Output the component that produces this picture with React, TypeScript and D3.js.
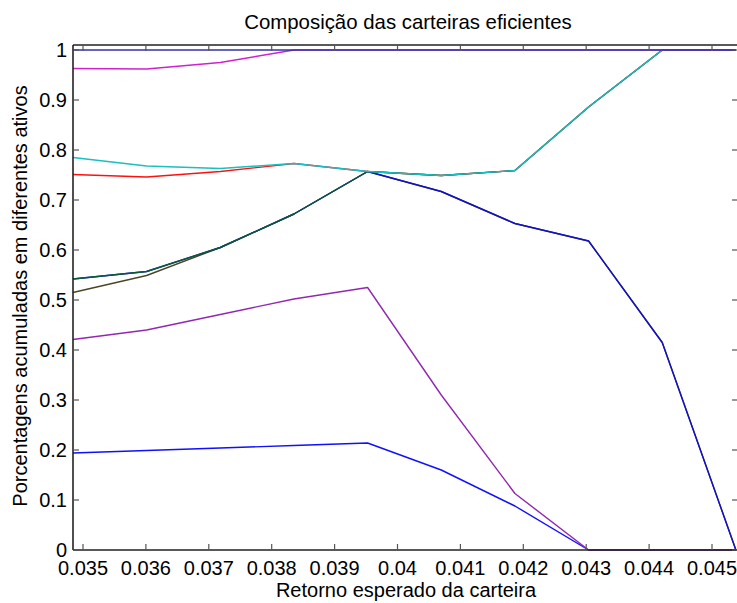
import React from "react";
import * as d3 from "d3";

// Expected returns of the 10 efficient portfolios (evenly spaced between the extremes)
const retornoMin = 0.03484;
const retornoMax = 0.04538;
const nCarteiras = 10;
const xs = d3.range(nCarteiras).map((i) => retornoMin + (i * (retornoMax - retornoMin)) / (nCarteiras - 1));

// Cumulative weights (one line per asset), in drawing order
const serieVermelha = [0.751, 0.746, 0.757, 0.773, 0.757, 0.749, 0.759, 0.886, 1, 1];
const serieOliva = [0.515, 0.549, 0.605, 0.672, 0.757, 0.717, 0.653, 0.618, 0.415, 0];
const serieAzulEscura = [0.542, 0.557, 0.605, 0.672, 0.757, 0.717, 0.653, 0.618, 0.415, 0];
const serieVerde = [0.542, 0.557, 0.605, 0.672, 0.757, 0.749, 0.759, 0.886, 1, 1];
const serieCiano = [0.785, 0.768, 0.763, 0.773, 0.757, 0.749, 0.759, 0.886, 1, 1];
const serieAzul = [0.194, 0.199, 0.204, 0.209, 0.214, 0.16, 0.088, 0, 0, 0];
const serieRoxa = [0.421, 0.44, 0.471, 0.502, 0.525, 0.31, 0.113, 0, 0, 0];
const serieMagenta = [0.963, 0.962, 0.975, 1, 1, 1, 1, 1, 1, 1];
const serieTopo = [1, 1, 1, 1, 1, 1, 1, 1, 1, 1];

const series = [
  { values: serieVermelha, color: "#ff1010" },
  { values: serieOliva, color: "#4a4526" },
  { values: serieAzulEscura, color: "#1010d0" },
  { values: serieVerde, color: "#0a5a3a" },
  { values: serieCiano, color: "#18c0c0" },
  { values: serieAzul, color: "#1010ff" },
  { values: serieRoxa, color: "#9228b0" },
  { values: serieMagenta, color: "#d020d0" },
  { values: serieTopo, color: "#3232a8" },
];

const xTicks = [0.035, 0.036, 0.037, 0.038, 0.039, 0.04, 0.041, 0.042, 0.043, 0.044, 0.045];
const xTickLabels = ["0.035", "0.036", "0.037", "0.038", "0.039", "0.04", "0.041", "0.042", "0.043", "0.044", "0.045"];
const yTicks = [0, 0.1, 0.2, 0.3, 0.4, 0.5, 0.6, 0.7, 0.8, 0.9, 1];
const yTickLabels = ["0", "0.1", "0.2", "0.3", "0.4", "0.5", "0.6", "0.7", "0.8", "0.9", "1"];

const titulo = "Composição das carteiras eficientes";
const rotuloX = "Retorno esperado da carteira";
const rotuloY = "Porcentagens acumuladas em diferentes ativos";

export default function App() {
  const W = 737;
  const H = 603;
  const left = 73;
  const right = 738;
  const top = 45;
  const bottom = 550;
  const font = "'Liberation Sans', Arial, Helvetica, sans-serif";
  const fs = 20;

  // x: 0.035 at 83px, ~62.9 px per 0.001
  const x = d3.scaleLinear().domain([0.035, 0.045]).range([83, 712]);
  const y = d3.scaleLinear().domain([0, 1]).range([bottom, 50]);

  const line = d3
    .line<number>()
    .x((_, i) => x(xs[i]))
    .y((d) => y(d));

  const tick = 6;

  return (
    <svg
      width={W}
      height={H}
      style={{ position: "absolute", left: 0, top: 0, background: "#fff" }}
      fontFamily={font}
    >
      <rect x={0} y={0} width={W} height={H} fill="#fff" />
      <g>
        {series.map((s, i) => (
          <path key={i} d={line(s.values) || ""} fill="none" stroke={s.color} strokeWidth={1.4} strokeLinejoin="round" />
        ))}
      </g>
      {/* axes box */}
      <g stroke="#222" strokeWidth={1.6} fill="none">
        <line x1={left} y1={bottom} x2={right} y2={bottom} />
        <line x1={left} y1={top} x2={right} y2={top} />
        <line x1={left} y1={top} x2={left} y2={bottom} />
        <line x1={right} y1={top} x2={right} y2={bottom} />
      </g>
      <g stroke="#555" strokeWidth={1.2}>
        {xTicks.map((t, i) => (
          <g key={i}>
            <line x1={x(t)} y1={bottom} x2={x(t)} y2={bottom - tick} />
            <line x1={x(t)} y1={top} x2={x(t)} y2={top + tick} />
          </g>
        ))}
        {yTicks.map((t, i) => (
          <g key={i}>
            <line x1={left} y1={y(t)} x2={left + tick} y2={y(t)} />
            <line x1={right} y1={y(t)} x2={right - tick} y2={y(t)} />
          </g>
        ))}
      </g>
      <g fontSize={fs} fill="#000">
        {xTicks.map((t, i) => (
          <text key={i} x={x(t)} y={575} textAnchor="middle">
            {xTickLabels[i]}
          </text>
        ))}
        {yTicks.map((t, i) => (
          <text key={i} x={67} y={y(t)} dy="0.36em" textAnchor="end">
            {yTickLabels[i]}
          </text>
        ))}
      </g>
      <text x={408} y={29} textAnchor="middle" fontSize={20.4}>
        {titulo}
      </text>
      <text x={406} y={597} textAnchor="middle" fontSize={fs}>
        {rotuloX}
      </text>
      <text
        transform={`translate(27, 296) rotate(-90)`}
        textAnchor="middle"
        fontSize={fs}
      >
        {rotuloY}
      </text>
    </svg>
  );
}
